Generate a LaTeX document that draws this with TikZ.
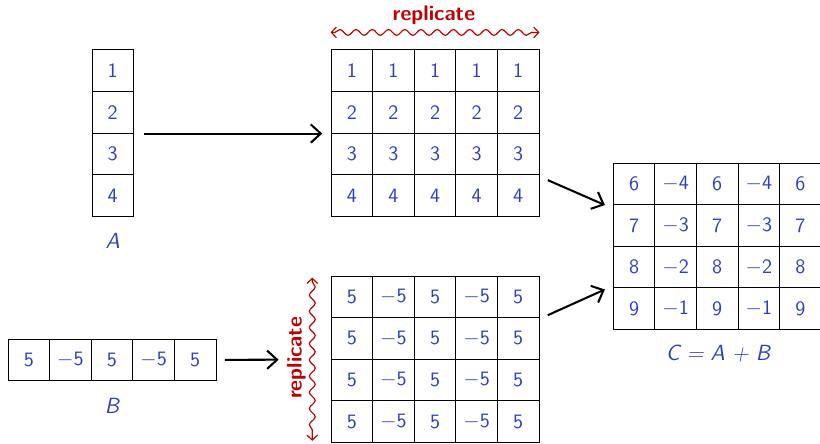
\documentclass[tikz,border=0pt]{standalone}
\usepackage{xcolor}
\usepackage{tikz}
\usetikzlibrary{arrows.meta,calc,decorations.pathmorphing}
\definecolor{cellblue}{RGB}{45,62,190}
\definecolor{repred}{RGB}{190,0,0}
\tikzstyle{cell} = [rectangle, draw, line width=0.6pt, minimum size=1cm, inner sep=0pt, text=cellblue, font=\fontsize{14}{16}\selectfont\sffamily]
\tikzstyle{line} = [draw, -{Straight Barb[length=2.4mm,width=4.4mm]}, line width=1.4pt]
\tikzstyle{wave} = [draw, repred, line width=0.8pt, {Straight Barb[length=1.2mm,width=2.6mm]}-{Straight Barb[length=1.2mm,width=2.6mm]}, decorate, decoration={snake, amplitude=0.7mm, segment length=3.9mm, pre length=1mm, post length=1mm}]
\tikzstyle{matlabel} = [text=cellblue, font=\fontsize{15}{17}\selectfont\sffamily\itshape]
\tikzstyle{rep} = [text=repred, font=\fontsize{14.5}{17}\selectfont\sffamily\bfseries]

\begin{document}
\begin{tikzpicture}
\useasboundingbox (0,0) rectangle (19.71,-10.67);

% A, column
\foreach \v [count=\i] in {1,2,3,4}
  \node [cell] (a\i) at (2.71,-0.7-\i) {\v};
\node [matlabel] (la) at (2.71,-5.79) {A};

% A replicated
\foreach \i in {1,...,4}
  \foreach \j in {1,...,5}
    \node [cell] (t\i\j) at (7.457+\j,-0.7-\i) {\i};

% B, row
\foreach \j/\v in {1/5,2/{$-$5},3/5,4/{$-$5},5/5}
  \node [cell] (r\j) at (-0.308+\j,-8.649) {\v};
\node [matlabel] (lb) at (2.69,-9.76) {B};

% B replicated
\foreach \i in {1,...,4}
  \foreach \j/\v in {1/5,2/{$-$5},3/5,4/{$-$5},5/5}
    \node [cell] (b\i\j) at (7.457+\j,-6.135-\i) {\v};

% C = A + B
\foreach \i in {1,...,4} {
  \pgfmathtruncatemacro\p{5+\i}
  \pgfmathtruncatemacro\m{5-\i}
  \foreach \j/\v in {1/\p,2/{$-$\m},3/\p,4/{$-$\m},5/\p}
    \node [cell] (c\i\j) at (14.24+\j,-3.418-\i) {\v};
}
\node [matlabel] (lc) at (17.26,-8.51) {C = A + B};

% replicate marks
\path [wave] ($(t11.north west)+(0,0.41)$) -- ($(t15.north east)+(0,0.41)$);
\node [rep] (reptop) at (10.43,-0.36) {replicate};
\path [wave] ($(b11.north west)+(-0.44,-0.05)$) -- ($(b41.south west)+(-0.44,0.05)$);
\node [rep, rotate=90] (repleft) at (7.12,-8.6) {replicate};

% arrows
\path [line] ($(a2.south east)+(0.25,0)$) -- ($(t21.south west)+(-0.2,0)$);
\path [line] ($(r5.east)+(0.2,0)$) -- ($(b21.south west)+(-1.25,0)$);
\path [line] ($(t45.east)+(0.2,0.37)$) -- ($(c11.south west)+(-0.19,0)$);
\path [line] ($(b15.south east)+(0.2,0.07)$) -- ($(c41.north west)+(-0.19,-0.05)$);

\end{tikzpicture}
\end{document}
